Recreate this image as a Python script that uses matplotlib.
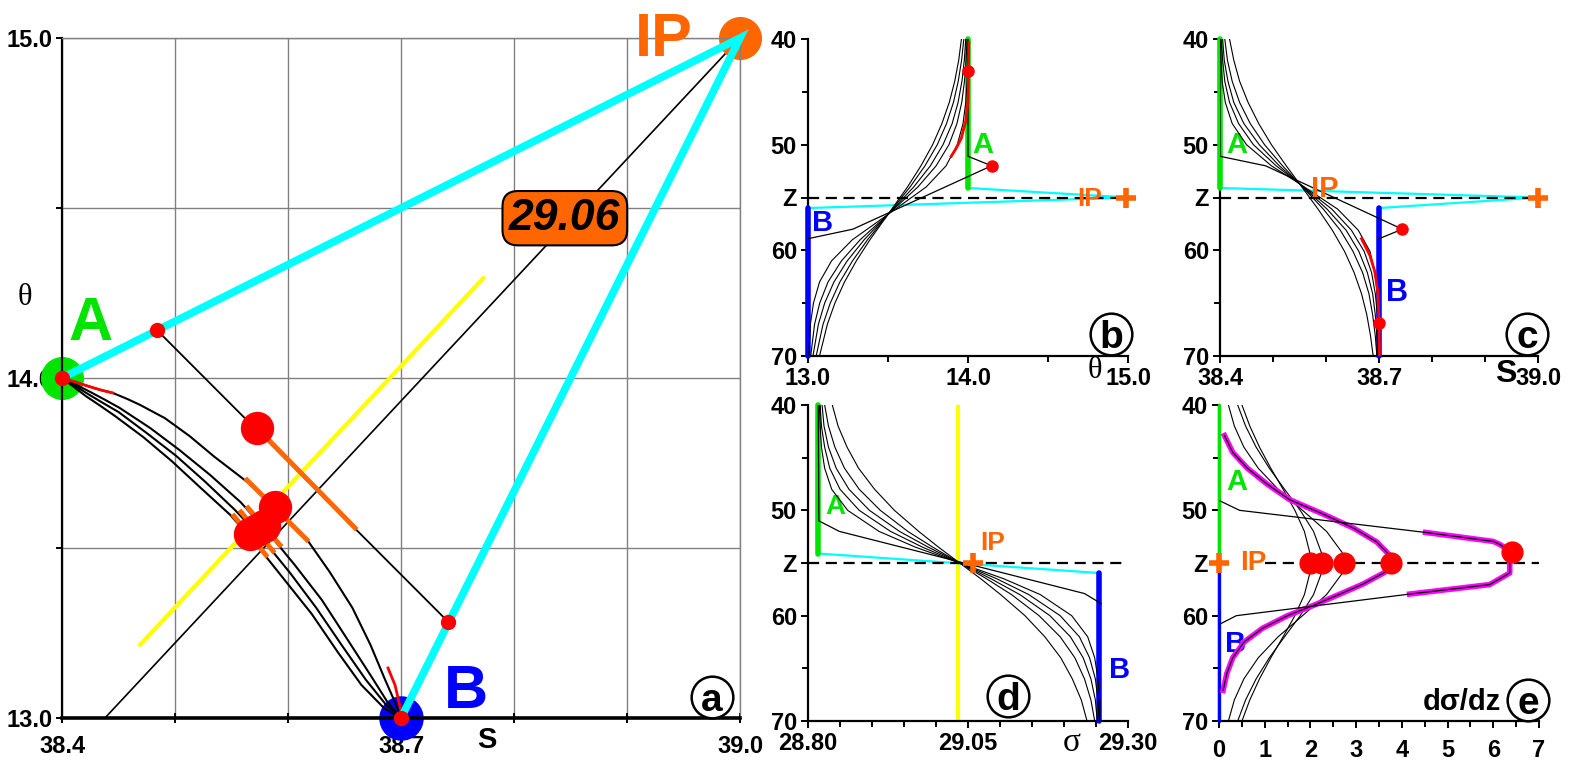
import matplotlib
matplotlib.use('Agg')
import matplotlib.pyplot as plt

plt.rcParams['font.family'] = ['Liberation Sans', 'DejaVu Sans']
plt.rcParams['font.weight'] = 'bold'

GREEN = '#00E400'
BLUE = '#0000FF'
CYAN = '#00FFFF'
ORANGE = '#FF6600'
RED = '#FF0000'
YELLOW = '#FFFF00'
MAGENTA = '#FF00FF'
SERIF = ['Liberation Serif', 'DejaVu Serif']

# ---------------- (a) theta-S diagram ----------------
a_A = (38.4, 14.0)
a_B = (38.7, 13.0)
a_IP = (39.0, 15.0)
a_cyan_S = [38.4, 39.0, 38.7]
a_cyan_T = [14.0, 15.0, 13.0]
a_iso_S = [38.438, 39.0]          # 29.06 isopycnal
a_iso_T = [13.0, 15.0]
a_yellow_S = [38.469, 38.773]
a_yellow_T = [13.215, 14.294]
a_sharp_S = [38.4, 38.484, 38.742, 38.7]
a_sharp_T = [14.0, 14.141, 13.282, 13.0]
a_curve1_S = [38.400, 38.412, 38.423, 38.434, 38.445, 38.458, 38.469, 38.491, 38.513, 38.535,
              38.564, 38.588, 38.617, 38.637, 38.657, 38.673, 38.686, 38.695, 38.700]
a_curve1_T = [14.000, 13.988, 13.976, 13.965, 13.956, 13.938, 13.921, 13.882, 13.829, 13.768,
              13.694, 13.621, 13.524, 13.429, 13.324, 13.215, 13.112, 13.044, 13.000]
a_curve2_S = [38.400, 38.412, 38.425, 38.438, 38.451, 38.478, 38.504, 38.531, 38.558, 38.582,
              38.606, 38.630, 38.653, 38.673, 38.688, 38.700]
a_curve2_T = [14.000, 13.981, 13.959, 13.936, 13.912, 13.853, 13.788, 13.715, 13.635, 13.547,
              13.450, 13.347, 13.229, 13.126, 13.047, 13.000]
a_curve3_S = [38.400, 38.411, 38.423, 38.436, 38.450, 38.475, 38.501, 38.527, 38.553, 38.578,
              38.602, 38.625, 38.648, 38.669, 38.687, 38.700]
a_curve3_T = [14.000, 13.978, 13.953, 13.927, 13.900, 13.838, 13.771, 13.694, 13.612, 13.524,
              13.426, 13.324, 13.212, 13.112, 13.038, 13.000]
a_curve4_S = [38.400, 38.410, 38.421, 38.434, 38.447, 38.472, 38.497, 38.522, 38.549, 38.573,
              38.597, 38.621, 38.644, 38.665, 38.685, 38.700]
a_curve4_T = [14.000, 13.975, 13.947, 13.918, 13.888, 13.826, 13.756, 13.679, 13.597, 13.506,
              13.406, 13.306, 13.194, 13.097, 13.029, 13.000]
a_redA_S = [38.400, 38.412, 38.423, 38.434, 38.445]
a_redA_T = [14.000, 13.988, 13.976, 13.965, 13.956]
a_redB_S = [38.6885, 38.6947, 38.7009]
a_redB_T = [13.147, 13.097, 13.009]
a_orange_S = [[38.5726, 38.6593], [38.5637, 38.6168], [38.5646, 38.5929],
              [38.5584, 38.5867], [38.5522, 38.5805]]
a_orange_T = [[13.853, 13.559], [13.700, 13.524], [13.618, 13.509],
              [13.606, 13.491], [13.594, 13.479]]
a_bigdot_S = [38.5726, 38.5885, 38.5788, 38.5726, 38.5664]
a_bigdot_T = [13.853, 13.621, 13.565, 13.553, 13.541]
a_dot_S = [38.4, 38.7, 38.484, 38.742]
a_dot_T = [14.0, 13.0, 14.141, 13.282]
a_label = '29.06'

# ---------------- (b) theta profiles ----------------
b_z = [40, 42, 44, 46, 48, 50, 52, 54, 56.6, 59, 61, 63, 65, 67, 70]
b_theta = [
    [13.999, 13.997, 13.994, 13.986, 13.969, 13.933, 13.863, 13.739, 13.5, 13.277, 13.147, 13.072, 13.034, 13.015, 13.005],
    [13.994, 13.988, 13.978, 13.961, 13.931, 13.881, 13.801, 13.687, 13.5, 13.326, 13.209, 13.125, 13.073, 13.041, 13.017],
    [13.986, 13.977, 13.962, 13.938, 13.901, 13.844, 13.765, 13.661, 13.5, 13.351, 13.245, 13.162, 13.104, 13.065, 13.031],
    [13.974, 13.960, 13.939, 13.909, 13.866, 13.808, 13.731, 13.638, 13.5, 13.372, 13.278, 13.199, 13.139, 13.094, 13.051],
    [13.959, 13.942, 13.917, 13.883, 13.837, 13.779, 13.706, 13.622, 13.5, 13.387, 13.302, 13.228, 13.168, 13.121, 13.072],
]
b_sharp_theta = [14.0, 14.0, 14.147, 13.28, 13.0]
b_sharp_z = [40, 51.1, 52.0, 58.0, 58.9]
b_red_theta = [14.005, 14.003, 14.0, 13.985, 13.958, 13.926, 13.895]
b_red_z = [40.3, 43.4, 45.9, 47.8, 49.4, 50.35, 51.1]
b_dot_theta = [14.0, 14.147]
b_dot_z = [43.0, 52.0]
b_cyan_theta = [14.0, 15.0, 13.0]
b_cyan_z = [54.1, 55.0, 56.0]

# ---------------- (c) salinity profiles ----------------
c_z = [40, 42, 44, 46, 48, 50, 52, 53.7, 56.1, 58.1, 60.1, 62.1, 64.1, 66.1, 68.1, 70]
c_sal = [
    [38.401, 38.402, 38.404, 38.410, 38.423, 38.450, 38.497, 38.55, 38.622, 38.661, 38.683, 38.692, 38.697, 38.699, 38.699, 38.700],
    [38.402, 38.405, 38.409, 38.418, 38.435, 38.463, 38.506, 38.55, 38.611, 38.648, 38.672, 38.686, 38.693, 38.697, 38.698, 38.699],
    [38.405, 38.408, 38.415, 38.426, 38.445, 38.474, 38.512, 38.55, 38.602, 38.638, 38.662, 38.678, 38.688, 38.693, 38.696, 38.698],
    [38.409, 38.414, 38.423, 38.437, 38.457, 38.484, 38.518, 38.55, 38.595, 38.627, 38.651, 38.669, 38.681, 38.688, 38.693, 38.696],
    [38.418, 38.426, 38.437, 38.453, 38.473, 38.497, 38.525, 38.55, 38.585, 38.612, 38.635, 38.653, 38.667, 38.677, 38.684, 38.689],
]
c_sharp_sal = [38.4, 38.4, 38.486, 38.744, 38.7]
c_sharp_z = [40, 51.1, 52.0, 58.0, 58.9]
c_red_sal = [38.667, 38.683, 38.692, 38.698, 38.700, 38.701]
c_red_z = [58.9, 60.5, 62.0, 64.0, 67.0, 70.0]
c_dot_sal = [38.7, 38.744]
c_dot_z = [66.9, 58.0]
c_cyan_sal = [38.4, 39.0, 38.7]
c_cyan_z = [54.1, 55.0, 56.0]

# ---------------- (d) sigma profiles ----------------
d_z = [40, 42, 44, 46, 48, 50, 52, 53.5, 55, 56.5, 58, 60, 62, 64, 66, 68, 70]
d_sig = [
    [28.818, 28.819, 28.821, 28.826, 28.837, 28.862, 28.911, 28.968, 29.037, 29.106, 29.163, 29.212, 29.237, 29.248, 29.253, 29.256, 29.256],
    [28.819, 28.821, 28.826, 28.834, 28.850, 28.880, 28.929, 28.979, 29.037, 29.095, 29.145, 29.194, 29.224, 29.240, 29.249, 29.253, 29.255],
    [28.822, 28.825, 28.832, 28.844, 28.864, 28.896, 28.943, 28.988, 29.037, 29.086, 29.131, 29.178, 29.210, 29.230, 29.242, 29.249, 29.252],
    [28.826, 28.832, 28.842, 28.857, 28.880, 28.913, 28.956, 28.995, 29.037, 29.079, 29.118, 29.161, 29.194, 29.217, 29.232, 29.242, 29.248],
    [28.838, 28.847, 28.861, 28.879, 28.904, 28.935, 28.973, 29.004, 29.037, 29.070, 29.101, 29.139, 29.170, 29.195, 29.213, 29.227, 29.236],
]
d_sharp_sig = [28.816, 28.817, 28.849, 29.232, 29.258]
d_sharp_z = [40, 51.0, 52.0, 57.9, 58.85]
d_A_sig, d_B_sig, d_yellow_sig = 28.816, 29.255, 29.035
d_cyan_sig = [28.816, 29.255]
d_cyan_z = [54.1, 55.95]
d_IP = (29.058, 55.0)

# ---------------- (e) dsigma/dz profiles ----------------
e_z = [40, 42, 44, 46, 48, 50, 52, 54, 55, 56, 58, 60, 62, 64, 66, 68, 70]
e_bells = [
    [0.502, 0.674, 0.886, 1.133, 1.402, 1.660, 1.868, 1.985, 2.0, 1.985, 1.868, 1.660, 1.402, 1.133, 0.886, 0.674, 0.502],
    [0.409, 0.582, 0.812, 1.100, 1.434, 1.777, 2.068, 2.238, 2.26, 2.238, 2.068, 1.777, 1.434, 1.100, 0.812, 0.582, 0.409],
    [0.206, 0.336, 0.544, 0.858, 1.294, 1.828, 2.353, 2.693, 2.74, 2.693, 2.353, 1.828, 1.294, 0.858, 0.544, 0.336, 0.206],
]
e_mag_z = [42.9, 44.5, 46.0, 47.5, 49.0, 50.3, 51.7, 53.0, 54.2, 55.0, 55.9, 57.0, 58.0,
           59.0, 60.0, 61.2, 62.5, 64.0, 65.5, 67.1]
e_mag_x = [0.12, 0.30, 0.62, 1.05, 1.55, 2.25, 2.95, 3.45, 3.72, 3.76, 3.62, 3.15, 2.62,
           2.08, 1.50, 0.95, 0.55, 0.30, 0.17, 0.09]
e_sharp_x = [0.02, 0.45, 4.52, 6.00, 6.15, 6.40, 6.36, 6.36, 5.92, 4.17, 0.38, 0.02]
e_sharp_z = [49.1, 50.0, 52.1, 52.95, 53.25, 54.0, 55.0, 55.95, 57.05, 57.95, 60.0, 60.8]
e_dot_x = [2.0, 2.26, 2.74, 3.76, 6.40]
e_dot_z = [55.0, 55.0, 55.0, 55.0, 54.0]

z_ticks = [40, 50, 55, 60, 70]
z_labels = ['40', '50', 'Z', '60', '70']
z_minor = [45, 65]


def profile_axes(ax, xlim, xmajor, xlabels, xminor, xpad):
    ax.set_xlim(xlim)
    ax.set_ylim(70, 40)
    ax.set_xticks(xmajor)
    ax.set_xticklabels(xlabels)
    ax.set_xticks(xminor, minor=True)
    ax.set_yticks(z_ticks)
    ax.set_yticklabels(z_labels)
    ax.set_yticks(z_minor, minor=True)
    for side in ['top', 'right']:
        ax.spines[side].set_visible(False)
    for side in ['left', 'bottom']:
        ax.spines[side].set_linewidth(1.6)
    ax.tick_params(which='both', direction='out', width=1.4, labelsize=17)
    ax.tick_params(which='major', length=5)
    ax.tick_params(which='minor', length=4)
    ax.tick_params(axis='x', which='both', pad=xpad)
    ax.tick_params(axis='y', which='both', pad=3)


def panel_letter(ax, x, y, letter):
    ax.plot([x], [y], 'o', transform=ax.transAxes, ms=30, mfc='white', mec='black',
            mew=1.8, clip_on=False, zorder=8)
    ax.text(x, y, letter, transform=ax.transAxes, ha='center', va='center_baseline',
            fontsize=28, zorder=9)


def layers_and_ip(ax, xa, za, xb, zb, cx, cz, xdash, plus_x, lw=4):
    ax.plot([xa, xa], za, color=GREEN, lw=lw, solid_capstyle='round', clip_on=False, zorder=3)
    ax.plot([xb, xb], zb, color=BLUE, lw=lw, solid_capstyle='round', clip_on=False, zorder=3)
    ax.plot(cx, cz, color=CYAN, lw=1.6, zorder=2)
    ax.plot(xdash, [55, 55], color='black', lw=1.6, dashes=(5, 3), zorder=2)
    ax.plot([plus_x], [55], '+', color=ORANGE, ms=15, mew=4, clip_on=False, zorder=7)


fig = plt.figure(figsize=(15.75, 7.63), dpi=100)
W, H = 1575.0, 763.0

# ---------------- panel a ----------------
ax = fig.add_axes([62 / W, 1 - 718 / H, 678 / W, 680 / H])
ax.set_xlim(38.4, 39.0)
ax.set_ylim(13.0, 15.0)
ax.set_xticks([38.4, 38.7, 39.0])
ax.set_xticklabels(['38.4', '38.7', '39.0'])
ax.set_xticks([38.5, 38.6, 38.8, 38.9], minor=True)
ax.set_yticks([13.0, 14.0, 15.0])
ax.set_yticklabels(['13.0', '14.0', '15.0'])
ax.set_yticks([13.5, 14.5], minor=True)
ax.grid(True, which='both', color='#808080', lw=1.0)
ax.set_axisbelow(True)
for side in ['top', 'right']:
    ax.spines[side].set_color('#808080')
    ax.spines[side].set_linewidth(1.0)
ax.spines['left'].set_linewidth(1.6)
ax.spines['bottom'].set_linewidth(2.6)
ax.tick_params(axis='x', which='both', direction='inout', length=7, width=1.4, pad=9, labelsize=17)
ax.tick_params(axis='y', which='both', direction='out', length=4, width=1.4, pad=3, labelsize=17)

ax.plot(a_yellow_S, a_yellow_T, color=YELLOW, lw=3, solid_capstyle='round', zorder=2)
ax.plot(a_iso_S, a_iso_T, color='black', lw=1.2, zorder=2)
ax.plot(*a_A, 'o', color=GREEN, ms=30, clip_on=False, zorder=2.5)
ax.plot(*a_B, 'o', color=BLUE, ms=31, clip_on=False, zorder=2.5)
ax.plot(*a_IP, 'o', color=ORANGE, ms=30, clip_on=False, zorder=2.5)
for s, t in [(a_curve1_S, a_curve1_T), (a_curve2_S, a_curve2_T),
             (a_curve3_S, a_curve3_T), (a_curve4_S, a_curve4_T)]:
    ax.plot(s, t, color='black', lw=1.5, zorder=3)
ax.plot(a_sharp_S, a_sharp_T, color='black', lw=1.3, zorder=3)
ax.plot(a_redA_S, a_redA_T, color=RED, lw=2, zorder=3.5)
ax.plot(a_redB_S, a_redB_T, color=RED, lw=2, zorder=3.5)
for s, t in zip(a_orange_S, a_orange_T):
    ax.plot(s, t, color=ORANGE, lw=3.5, zorder=4)
ax.plot(a_cyan_S, a_cyan_T, color=CYAN, lw=5.5, solid_joinstyle='miter', clip_on=False, zorder=5)
ax.plot(a_bigdot_S, a_bigdot_T, 'o', color=RED, ms=23, zorder=6)
ax.plot(a_dot_S, a_dot_T, 'o', color=RED, ms=10, clip_on=False, zorder=6)
ax.text(38.845, 14.47, a_label, fontsize=32, fontstyle='italic', ha='center', va='center',
        zorder=7, bbox=dict(boxstyle='round,pad=0.15,rounding_size=0.35', fc=ORANGE, ec='black', lw=1.5))
ax.text(38.933, 14.994, 'IP', color=ORANGE, fontsize=44, ha='center', va='center', clip_on=False, zorder=7)
ax.text(38.425, 14.156, 'A', color=GREEN, fontsize=44, ha='center', va='center', zorder=7)
ax.text(38.7575, 13.076, 'B', color=BLUE, fontsize=44, ha='center', va='center', zorder=7)
ax.text(-0.0546, 0.619, 'θ', transform=ax.transAxes, family=SERIF, fontweight='normal',
        fontsize=22, ha='center', va='center')
ax.text(0.627, -0.032, 'S', transform=ax.transAxes, fontsize=21, ha='center', va='center')
panel_letter(ax, 0.958, 0.031, 'a')

# ---------------- panel b ----------------
ax = fig.add_axes([808 / W, 1 - 356 / H, 320 / W, 317 / H])
profile_axes(ax, (13.0, 15.0), [13.0, 14.0, 15.0], ['13.0', '14.0', '15.0'], [13.5, 14.5], 3)
layers_and_ip(ax, 14.0, [40, 54.1], 13.0, [56.0, 70], b_cyan_theta, b_cyan_z, [13.0, 15.0], 14.99)
for th in b_theta:
    ax.plot(th, b_z, color='black', lw=0.8, zorder=4)
ax.plot(b_sharp_theta, b_sharp_z, color='black', lw=0.9, zorder=4)
ax.plot(b_red_theta, b_red_z, color=RED, lw=2, zorder=5)
ax.plot(b_dot_theta, b_dot_z, 'o', color=RED, ms=8, zorder=6)
ax.text(14.09, 50.0, 'A', color=GREEN, fontsize=21, ha='center', va='center')
ax.text(13.094, 57.4, 'B', color=BLUE, fontsize=21, ha='center', va='center')
ax.text(14.76, 55.1, 'IP', color=ORANGE, fontsize=19, ha='center', va='center', zorder=8)
ax.text(0.897, -0.047, 'θ', transform=ax.transAxes, family=SERIF, fontweight='normal',
        fontsize=22, ha='center', va='center')
panel_letter(ax, 0.947, 0.069, 'b')

# ---------------- panel c ----------------
ax = fig.add_axes([1220 / W, 1 - 356 / H, 318 / W, 317 / H])
profile_axes(ax, (38.4, 39.0), [38.4, 38.7, 39.0], ['38.4', '38.7', '39.0'],
             [38.5, 38.6, 38.8, 38.9], 3)
layers_and_ip(ax, 38.4, [40, 54.1], 38.7, [56.0, 70], c_cyan_sal, c_cyan_z, [38.4, 39.0], 39.0)
for sa in c_sal:
    ax.plot(sa, c_z, color='black', lw=0.8, zorder=4)
ax.plot(c_sharp_sal, c_sharp_z, color='black', lw=0.9, zorder=4)
ax.plot(c_red_sal, c_red_z, color=RED, lw=2, zorder=5)
ax.plot(c_dot_sal, c_dot_z, 'o', color=RED, ms=8, zorder=6)
ax.text(38.432, 50.0, 'A', color=GREEN, fontsize=21, ha='center', va='center')
ax.text(38.734, 64.0, 'B', color=BLUE, fontsize=22, ha='center', va='center')
ax.text(38.598, 54.2, 'IP', color=ORANGE, fontsize=21, ha='center', va='center', zorder=8)
ax.text(0.899, -0.057, 'S', transform=ax.transAxes, fontsize=23, ha='center', va='center')
panel_letter(ax, 0.965, 0.069, 'c')

# ---------------- panel d ----------------
ax = fig.add_axes([808 / W, 1 - 721 / H, 320 / W, 316 / H])
profile_axes(ax, (28.8, 29.3), [28.8, 29.05, 29.3], ['28.80', '29.05', '29.30'],
             [28.85, 28.9, 28.95, 29.0, 29.1, 29.15, 29.2, 29.25], 3)
ax.plot([d_yellow_sig, d_yellow_sig], [40, 70], color=YELLOW, lw=3, solid_capstyle='round', zorder=1)
layers_and_ip(ax, d_A_sig, [40, 54.1], d_B_sig, [55.95, 70], d_cyan_sig, d_cyan_z, [28.8, 29.3], d_IP[0])
for sg in d_sig:
    ax.plot(sg, d_z, color='black', lw=0.8, zorder=4)
ax.plot(d_sharp_sig, d_sharp_z, color='black', lw=0.9, zorder=4)
ax.text(28.842, 49.7, 'A', color=GREEN, fontsize=20, ha='center', va='center')
ax.text(29.287, 65.2, 'B', color=BLUE, fontsize=21, ha='center', va='center')
ax.text(29.089, 53.1, 'IP', color=ORANGE, fontsize=19, ha='center', va='center', zorder=8)
ax.text(0.825, -0.070, 'σ', transform=ax.transAxes, family=SERIF, fontweight='normal',
        fontsize=24, ha='center', va='center')
panel_letter(ax, 0.625, 0.079, 'd')

# ---------------- panel e ----------------
ax = fig.add_axes([1219 / W, 1 - 721 / H, 320 / W, 316 / H])
profile_axes(ax, (0, 7), list(range(8)), [str(i) for i in range(8)],
             [0.5, 1.5, 2.5, 3.5, 4.5, 5.5, 6.5], 8)
layers_and_ip(ax, 0, [40, 55], 0, [55, 70], [], [], [1.0, 7.0], 0.0, lw=2.4)
for bell in e_bells:
    ax.plot(bell, e_z, color='black', lw=0.8, zorder=4)
ax.plot(e_mag_x, e_mag_z, color=MAGENTA, lw=4, zorder=4)
ax.plot(e_mag_x, e_mag_z, color='black', lw=0.9, zorder=4.5)
ax.plot(e_sharp_x, e_sharp_z, color='black', lw=0.9, zorder=4.5)
ax.plot(e_sharp_x[2:10], e_sharp_z[2:10], color=MAGENTA, lw=4, zorder=4)
ax.plot(e_dot_x, e_dot_z, 'o', color=RED, ms=15, zorder=6)
ax.text(0.39, 47.3, 'A', color=GREEN, fontsize=21, ha='center', va='center')
ax.text(0.36, 62.7, 'B', color=BLUE, fontsize=21, ha='center', va='center')
ax.text(0.74, 55.0, 'IP', color=ORANGE, fontsize=20, ha='center', va='center', zorder=8)
ax.text(0.759, 0.06, 'dσ/dz', transform=ax.transAxes, fontsize=21, ha='center', va='center')
panel_letter(ax, 0.966, 0.066, 'e')

fig.savefig('out.png', dpi=100)
